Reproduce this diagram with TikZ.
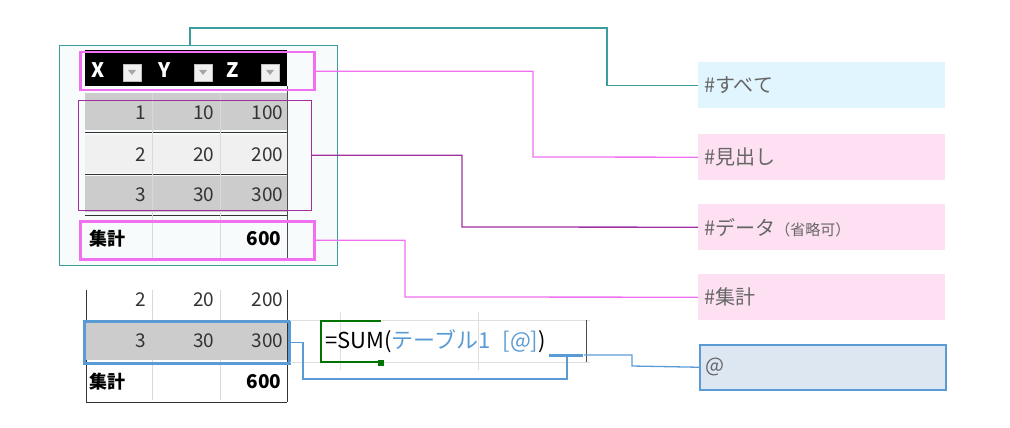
\documentclass[tikz,border=0pt]{standalone}
\usepackage{fontspec}
\setmainfont{Noto Sans CJK JP}
\begin{document}
\begin{tikzpicture}[x=1pt,y=-1pt,
 lab/.style={draw=none,minimum width=247pt,minimum height=46pt,anchor=north west,text=black!60,font=\fontsize{20}{20}\selectfont,align=left,text width=235pt},
 num/.style={anchor=east,font=\fontsize{19}{19}\selectfont,text=black!80},
 hdr/.style={anchor=west,font=\bfseries\fontsize{20}{20}\selectfont,text=white},
 dd/.style={fill=gray!12,draw=gray!50,minimum width=18pt,minimum height=17pt,inner sep=0pt},
]
\definecolor{teal1}{HTML}{3A9E9E}
\definecolor{pinkb}{HTML}{F070F0}
\definecolor{purp}{HTML}{A030A0}
\definecolor{blu}{HTML}{5B9BD5}
\definecolor{atfill}{HTML}{DDE7F2}
\useasboundingbox (0,0) rectangle (1010,428);
% top table
\fill[teal!3] (59,45) rectangle (337,265);
\draw[teal1] (59,45) rectangle (337,265);
\fill[black] (85,50) rectangle (287,86);
\foreach \x/\t in {88/X,155/Y,223/Z}{\node[hdr] at (\x,70) {\t};}
\foreach \x in {132,203,270}{\node[dd] at (\x,73) {}; \fill[gray!70] (\x-4,70)--(\x+4,70)--(\x,75)--cycle;}
\fill[gray!40] (85,93) rectangle (287,130);
\fill[gray!12] (85,135) rectangle (287,173);
\fill[gray!40] (85,176) rectangle (287,212);
\draw[black!80] (85,132)--(287,132) (85,174)--(287,174) (85,215)--(287,215);
\draw[black!70] (287,86)--(287,258) (85,258)--(287,258);
\draw[gray!30] (152,93)--(152,258) (220,93)--(220,258);
\foreach \y/\a/\b/\c in {113/1/10/100,155/2/20/200,195/3/30/300}{
 \node[num] at (150,\y) {\a}; \node[num] at (218,\y) {\b}; \node[num] at (287,\y) {\c};}
\node[anchor=west,font=\bfseries\fontsize{18}{18}\selectfont] at (86,239) {集計};
\node[num,font=\bfseries\fontsize{19}{19}\selectfont,text=black] at (285,239) {600};
\node[draw=pinkb,line width=2.5pt,minimum width=234pt,minimum height=38pt,anchor=north west,inner sep=0pt] (hd) at (79,51) {};
\node[draw=purp,line width=0.6pt,minimum width=233pt,minimum height=110pt,anchor=north west,inner sep=0pt] (dt) at (78,100) {};
\node[draw=pinkb,line width=2.5pt,minimum width=234pt,minimum height=38pt,anchor=north west,inner sep=0pt] (tt) at (79,220) {};
\coordinate (all) at (190,45);
% labels
\node[lab,fill=cyan!12] (l1) at (698,62) {\#すべて};
\node[lab,fill=magenta!12] (l2) at (698,134) {\#見出し};
\node[lab,fill=magenta!12] (l3) at (698,204) {\#データ{\fontsize{15}{15}\selectfont （省略可）}};
\node[lab,fill=magenta!12] (l4) at (698,274) {\#集計};
\node[lab,fill=atfill,draw=blu,line width=1.5pt,minimum width=246pt,minimum height=45pt] (l5) at (699,344) {@};
\draw[teal1,line width=1.3pt] (all) |- (607,28) |- (l1.west);
\draw[pinkb,line width=1.3pt] (hd.east) -| (533,157) -- (l2.west);
\draw[purp,line width=1.3pt] (dt.east) -| (462,227) -- (l3.west);
\draw[pinkb,line width=1.3pt] (tt.east) -| (405,297) -- (l4.west);
% bottom table
\draw[black!80] (86,290)--(86,402) (287,290)--(287,402) (86,402)--(287,402);
\draw[gray!30] (152,290)--(152,400) (220,290)--(220,400);
\fill[gray!40] (86,322) rectangle (287,360);
\node[num] at (150,300) {2}; \node[num] at (218,300) {20}; \node[num] at (287,300) {200};
\node[num] at (150,341) {3}; \node[num] at (218,341) {30}; \node[num] at (287,341) {300};
\node[anchor=west,font=\bfseries\fontsize{18}{18}\selectfont] at (86,382) {集計};
\node[num,font=\bfseries\fontsize{19}{19}\selectfont,text=black] at (285,382) {600};
\node[draw=blu,line width=2.5pt,minimum width=205pt,minimum height=42pt,anchor=north west,inner sep=0pt] (rw) at (83,320) {};
% formula cell
\draw[gray!25] (290,320)--(590,320) (290,362)--(590,362) (340,312)--(340,370) (478,312)--(478,370);
\draw[green!45!black,line width=2pt] (381,321)--(321,321)--(321,362)--(381,362);
\fill[green!45!black] (378,360) rectangle (384,366);
\node[anchor=west,font=\fontsize{22}{22}\selectfont,inner sep=0pt] (fx) at (325,341) {=SUM(\textcolor{blu}{テーブル1\hspace{12pt}[@]})};
\draw[black!70] (586,320)--(586,362);
\draw[blu,line width=3pt] (549,355)--(583,355);
\coordinate (at) at (567,356);
\coordinate (atr) at (584,355);
\draw[blu,line width=1.3pt] (rw.east) -| (303,379) -| (at);
\draw[blu,line width=1.3pt] (atr) -| (632,366) -- (l5.west);
\end{tikzpicture}
\end{document}
